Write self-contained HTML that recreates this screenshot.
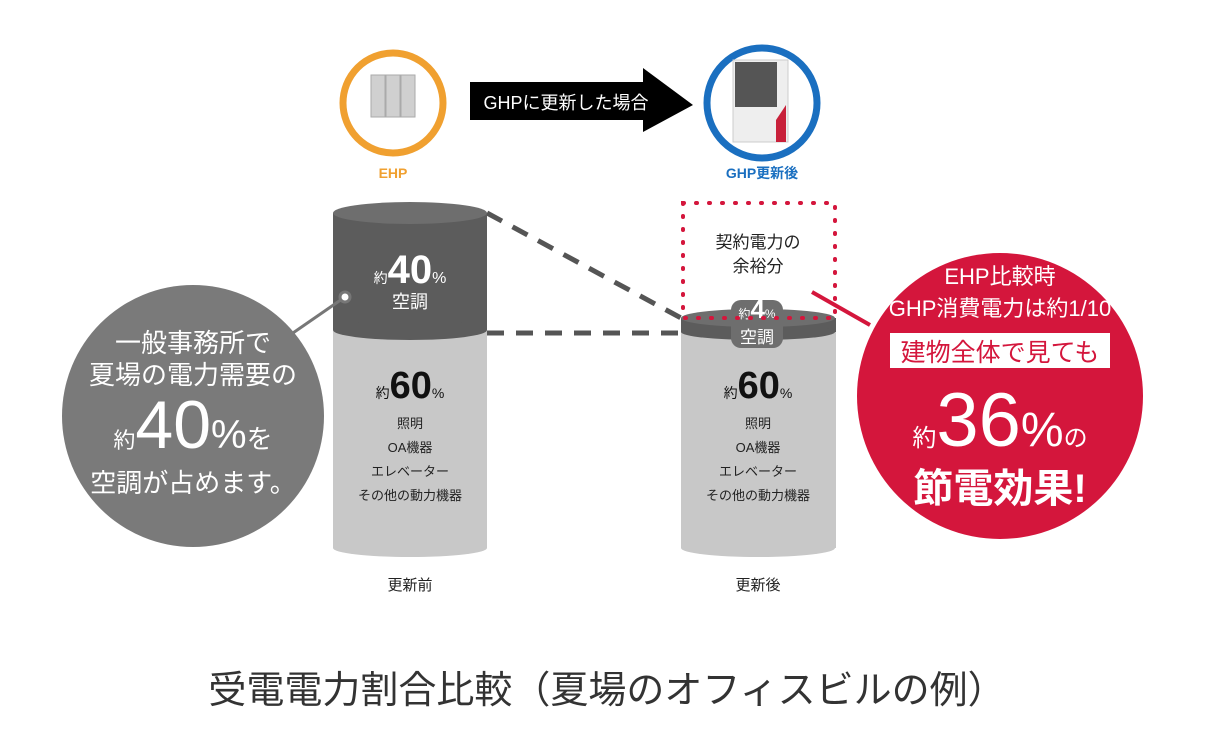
<!DOCTYPE html>
<html><head><meta charset="utf-8"><style>
html,body{margin:0;padding:0;background:#fff;width:1228px;height:737px;overflow:hidden}
svg text{font-family:"Liberation Sans","Noto Sans CJK JP",sans-serif}
</style></head><body>
<svg width="1228" height="737" viewBox="0 0 1228 737" xmlns="http://www.w3.org/2000/svg">
<circle cx="393" cy="103" r="50" fill="#fff" stroke="#f0a030" stroke-width="7"/>
<rect x="371" y="75" width="14" height="42" fill="#d0d0d0" stroke="#aaa"/>
<rect x="386" y="75" width="14" height="42" fill="#d0d0d0" stroke="#aaa"/>
<rect x="401" y="75" width="14" height="42" fill="#d0d0d0" stroke="#aaa"/>
<polygon points="470,82 643,82 643,68 693,105 643,132 643,120 470,120" fill="#000"/>
<text x="566" y="109" font-size="18" fill="#fff" text-anchor="middle">GHPに更新した場合</text>
<circle cx="762" cy="103" r="55" fill="#fff" stroke="#1a6fc0" stroke-width="7"/>
<rect x="733" y="60" width="55" height="82" fill="#eee" stroke="#ccc"/>
<rect x="735" y="62" width="42" height="45" fill="#555"/>
<polygon points="776,120 786,105 786,142 776,142" fill="#c8203a"/>
<text x="393" y="178" font-size="14" font-weight="bold" fill="#f0a030" text-anchor="middle">EHP</text>
<text x="762" y="178" font-size="14" font-weight="bold" fill="#1a6fc0" text-anchor="middle">GHP更新後</text>
<line x1="487" y1="213" x2="681" y2="318" stroke="#555" stroke-width="5" stroke-dasharray="17,12"/>
<line x1="487" y1="333" x2="681" y2="333" stroke="#555" stroke-width="5" stroke-dasharray="17,12"/>
<rect x="333" y="330" width="154" height="218" fill="#c8c8c8"/>
<ellipse cx="410" cy="548" rx="77" ry="9" fill="#c8c8c8"/>
<rect x="333" y="213" width="154" height="117" fill="#5c5c5c"/>
<ellipse cx="410" cy="330" rx="77" ry="10" fill="#5c5c5c"/>
<ellipse cx="410" cy="213" rx="77" ry="11" fill="#6e6e6e"/>
<text x="410" y="283" text-anchor="middle" fill="#fff"><tspan font-size="14">約</tspan><tspan font-size="40" font-weight="bold">40</tspan><tspan font-size="16">%</tspan></text>
<text x="410" y="308" font-size="18" fill="#fff" text-anchor="middle">空調</text>
<text x="410" y="398" text-anchor="middle" fill="#111"><tspan font-size="14">約</tspan><tspan font-size="38" font-weight="bold">60</tspan><tspan font-size="14">%</tspan></text>
<g font-size="13" fill="#222" text-anchor="middle">
<text x="410" y="428">照明</text><text x="410" y="452">OA機器</text><text x="410" y="476">エレベーター</text><text x="410" y="500">その他の動力機器</text></g>
<text x="410" y="590" font-size="15" fill="#222" text-anchor="middle">更新前</text>
<rect x="681" y="330" width="155" height="218" fill="#c8c8c8"/>
<ellipse cx="758" cy="548" rx="77" ry="9" fill="#c8c8c8"/>
<rect x="681" y="318" width="155" height="14" fill="#5c5c5c"/>
<ellipse cx="758" cy="332" rx="77" ry="8" fill="#5c5c5c"/>
<ellipse cx="758" cy="318" rx="77" ry="9" fill="#6e6e6e"/>
<rect x="731" y="300" width="52" height="48" rx="10" fill="#6e6e6e"/>
<text x="757" y="318" text-anchor="middle" fill="#fff"><tspan font-size="12">約</tspan><tspan font-size="26" font-weight="bold">4</tspan><tspan font-size="12">%</tspan></text>
<text x="757" y="343" font-size="17" fill="#fff" text-anchor="middle">空調</text>
<rect x="683" y="203" width="152" height="115" fill="none" stroke="#d4163c" stroke-width="4" stroke-dasharray="1,12" stroke-linecap="round"/>
<text x="758" y="248" font-size="17" fill="#222" text-anchor="middle">契約電力の</text>
<text x="758" y="272" font-size="17" fill="#222" text-anchor="middle">余裕分</text>
<text x="758" y="398" text-anchor="middle" fill="#111"><tspan font-size="14">約</tspan><tspan font-size="38" font-weight="bold">60</tspan><tspan font-size="14">%</tspan></text>
<g font-size="13" fill="#222" text-anchor="middle">
<text x="758" y="428">照明</text><text x="758" y="452">OA機器</text><text x="758" y="476">エレベーター</text><text x="758" y="500">その他の動力機器</text></g>
<text x="758" y="590" font-size="15" fill="#222" text-anchor="middle">更新後</text>
<line x1="290" y1="335" x2="345" y2="297" stroke="#777" stroke-width="3"/>
<circle cx="345" cy="297" r="5" fill="#fff" stroke="#777" stroke-width="3"/>
<circle cx="193" cy="416" r="131" fill="#7a7a7a"/>
<g fill="#fff" text-anchor="middle">
<text x="193" y="352" font-size="26">一般事務所で</text>
<text x="193" y="384" font-size="26">夏場の電力需要の</text>
<text x="193" y="448"><tspan font-size="22">約</tspan><tspan font-size="68">40</tspan><tspan font-size="40">%</tspan><tspan font-size="26">を</tspan></text>
<text x="193" y="492" font-size="26">空調が占めます。</text></g>
<line x1="812" y1="292" x2="870" y2="325" stroke="#d4163c" stroke-width="4"/>
<circle cx="1000" cy="396" r="143" fill="#d4163c"/>
<g fill="#fff" text-anchor="middle">
<text x="1000" y="284" font-size="22">EHP比較時</text>
<text x="1000" y="316" font-size="22">GHP消費電力は約1/10</text>
<rect x="890" y="333" width="220" height="35" fill="#fff"/>
<text x="1000" y="361" font-size="25" fill="#d4163c">建物全体で見ても</text>
<text x="1000" y="446"><tspan font-size="24">約</tspan><tspan font-size="76">36</tspan><tspan font-size="48">%</tspan><tspan font-size="24">の</tspan></text>
<text x="1000" y="502" font-size="40" font-weight="bold">節電効果!</text></g>
<text x="607" y="703" font-size="38" fill="#333" text-anchor="middle">受電電力割合比較（夏場のオフィスビルの例）</text>
</svg>
</body></html>
